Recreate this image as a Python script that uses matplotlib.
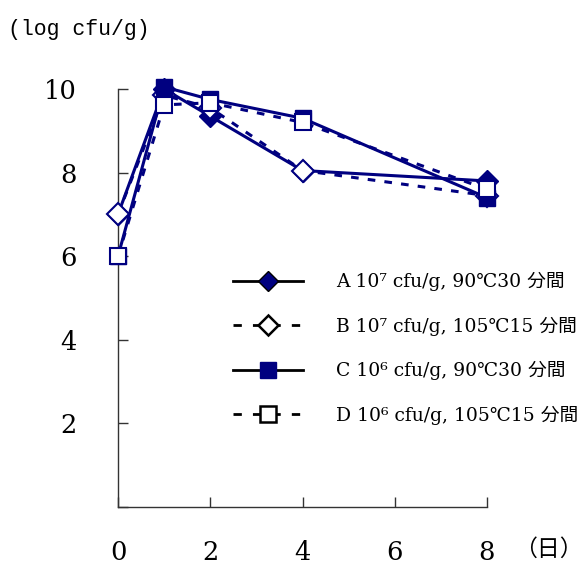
import matplotlib
matplotlib.use("Agg")
import matplotlib.pyplot as plt
from matplotlib.lines import Line2D

plt.rcParams["font.family"] = ["DejaVu Serif", "Noto Sans CJK JP"]
MONO = ["Liberation Mono", "Noto Sans CJK JP"]

NAVY = "#000080"

days = [0, 1, 2, 4, 8]
series_a = [7.0, 10.0, 9.35, 8.05, 7.8]
series_b = [7.0, 9.85, 9.55, 8.05, 7.45]
series_c = [6.0, 10.05, 9.75, 9.3, 7.4]
series_d = [6.0, 9.62, 9.67, 9.2, 7.6]
labels = [
    "A 10⁷ cfu/g, 90℃30 分間",
    "B 10⁷ cfu/g, 105℃15 分間",
    "C 10⁶ cfu/g, 90℃30 分間",
    "D 10⁶ cfu/g, 105℃15 分間",
]
yticks = [2, 4, 6, 8, 10]
xticks = [0, 2, 4, 6, 8]

fig = plt.figure(figsize=(5.88, 5.65), dpi=100)
ax = fig.add_axes([118 / 588, 58 / 565, 369 / 588, 418 / 565])

dash = (0, (2.5, 3))
ax.plot(days, series_a, color=NAVY, lw=2.2, marker="D", ms=11.5,
        mfc=NAVY, mec=NAVY, clip_on=False, zorder=3)
ax.plot(days, series_b, color=NAVY, lw=2.2, ls=dash, marker="D", ms=11.5,
        mfc="white", mec=NAVY, mew=1.5, clip_on=False, zorder=4)
ax.plot(days, series_c, color=NAVY, lw=2.2, marker="s", ms=12,
        mfc=NAVY, mec=NAVY, clip_on=False, zorder=5)
ax.plot(days, series_d, color=NAVY, lw=2.2, ls=dash, marker="s", ms=12,
        mfc="white", mec=NAVY, mew=1.5, clip_on=False, zorder=6)

ax.set_xlim(0, 8)
ax.set_ylim(0, 10)
ax.set_xticks(xticks)
ax.set_yticks([0] + yticks)
ax.set_yticklabels([""] + [str(v) for v in yticks])
for s in ("top", "right"):
    ax.spines[s].set_visible(False)
for s in ("left", "bottom"):
    ax.spines[s].set_color("#333333")
    ax.spines[s].set_linewidth(1.0)
ax.tick_params(axis="y", direction="in", length=7, width=1, pad=30,
               labelsize=18.5, colors="#333333", labelcolor="black")
ax.tick_params(axis="x", direction="in", length=7, width=1, pad=24,
               labelsize=18.5, colors="#333333", labelcolor="black")

fig.text(8 / 588, 1 - 30 / 565, "(log cfu/g)", fontsize=15.5,
         family=MONO, ha="left", va="center")
fig.text(514 / 588, 1 - 549 / 565, "（日）", fontsize=16.5,
         family=["Noto Sans CJK JP"], ha="left", va="center")

handles = [
    Line2D([], [], color="black", lw=2, marker="D", ms=10, mfc=NAVY, mec="black"),
    Line2D([], [], color="black", lw=2, ls=(0, (3, 4)), marker="D", ms=10,
           mfc="white", mec="black", mew=1.8),
    Line2D([], [], color="black", lw=2, marker="s", ms=12, mfc=NAVY, mec=NAVY),
    Line2D([], [], color="black", lw=2, ls=(0, (3, 4)), marker="s", ms=12,
           mfc="white", mec="black", mew=1.8),
]
fig.legend(handles, labels, loc="upper left",
           bbox_to_anchor=(224 / 588, 1 - 263 / 565),
           frameon=False, prop={"size": 13.5},
           handlelength=3.7, handletextpad=1.8, labelspacing=1.35, borderpad=0)

fig.savefig("out.png", dpi=100)
